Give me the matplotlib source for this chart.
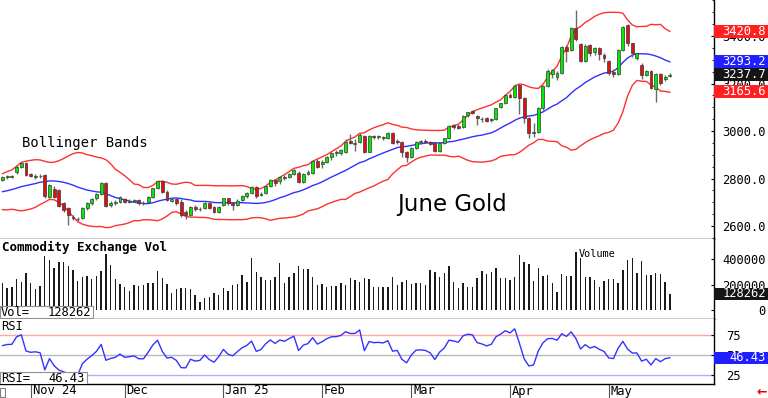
import numpy as np
import pandas as pd
import matplotlib
matplotlib.use('Agg')
import matplotlib.pyplot as plt
import matplotlib.transforms as mtransforms
from matplotlib.patches import Rectangle

# June gold (COMEX), daily bars 24 Oct 2024 - 20 May 2025
holidays = ['2024-11-28', '2024-12-25', '2025-01-01', '2025-01-20', '2025-02-17', '2025-04-18']
dates = pd.bdate_range('2024-10-24', '2025-05-20')
dates = dates[~dates.isin(pd.to_datetime(holidays))]
month_labels = ['Nov 24', 'Dec', 'Jan 25', 'Feb', 'Mar', 'Apr', 'May']

# closes before the window, only used to warm up the bands and the RSI
warmup_close = [2745, 2733, 2709, 2737, 2732, 2731, 2728, 2719, 2697, 2683,
                2705, 2732, 2724, 2737, 2749, 2767, 2796, 2795, 2823, 2791]

opens = [2795, 2806, 2808, 2826, 2850, 2864, 2818, 2808, 2812, 2815,
         2723, 2754, 2752, 2695, 2674, 2639, 2628, 2632, 2674, 2695,
         2716, 2735, 2780, 2690, 2698, 2702, 2712, 2703, 2705, 2709,
         2698, 2702, 2721, 2759, 2791, 2745, 2706, 2712, 2700, 2660,
         2646, 2681, 2670, 2674, 2695, 2681, 2660, 2688, 2716, 2698,
         2688, 2709, 2726, 2738, 2763, 2730, 2738, 2768, 2794, 2791,
         2808, 2808, 2819, 2825, 2787, 2819, 2825, 2875, 2862, 2871,
         2892, 2906, 2906, 2912, 2960, 2945, 2952, 2980, 2913, 2978,
         2975, 2970, 2970, 2990, 2958, 2955, 2910, 2892, 2930, 2953,
         2956, 2955, 2948, 2917, 2948, 2969, 3025, 3020, 3018, 3067,
         3086, 3063, 3052, 3053, 3046, 3049, 3100, 3116, 3152, 3145,
         3194, 3138, 3053, 2990, 2997, 3095, 3189, 3240, 3226, 3243,
         3355, 3341, 3432, 3366, 3296, 3362, 3334, 3348, 3320, 3296,
         3250, 3240, 3341, 3446, 3369, 3306, 3278, 3236, 3254, 3175,
         3240, 3218, 3232]
highs = [2812, 2815, 2816, 2855, 2870, 2870, 2825, 2818, 2820, 2820,
         2778, 2770, 2755, 2700, 2680, 2648, 2640, 2680, 2700, 2718,
         2740, 2787, 2785, 2705, 2710, 2725, 2718, 2712, 2715, 2714,
         2705, 2725, 2762, 2795, 2795, 2750, 2716, 2718, 2712, 2668,
         2685, 2688, 2680, 2700, 2700, 2686, 2685, 2720, 2720, 2702,
         2712, 2730, 2742, 2768, 2768, 2742, 2772, 2798, 2800, 2810,
         2814, 2824, 2840, 2830, 2823, 2834, 2880, 2882, 2880, 2896,
         2912, 2918, 2925, 2965, 2988, 2965, 2990, 2985, 2985, 2985,
         2982, 2980, 2995, 2994, 2965, 2960, 2915, 2932, 2960, 2962,
         2965, 2960, 2952, 2952, 2972, 3025, 3030, 3028, 3068, 3082,
         3090, 3068, 3058, 3060, 3055, 3098, 3120, 3155, 3160, 3200,
         3200, 3142, 3060, 3032, 3100, 3195, 3260, 3262, 3252, 3360,
         3362, 3438, 3510, 3372, 3365, 3366, 3355, 3352, 3328, 3300,
         3260, 3346, 3444, 3450, 3372, 3330, 3285, 3258, 3258, 3245,
         3245, 3235, 3245]
lows = [2790, 2800, 2802, 2820, 2845, 2810, 2805, 2800, 2802, 2720,
        2718, 2718, 2680, 2660, 2604, 2625, 2620, 2628, 2668, 2690,
        2710, 2730, 2680, 2680, 2690, 2698, 2695, 2698, 2700, 2690,
        2688, 2698, 2718, 2755, 2740, 2705, 2700, 2690, 2640, 2630,
        2642, 2665, 2665, 2670, 2670, 2655, 2655, 2684, 2690, 2667,
        2684, 2704, 2720, 2734, 2720, 2725, 2734, 2764, 2770, 2778,
        2795, 2804, 2815, 2782, 2783, 2814, 2820, 2844, 2845, 2866,
        2880, 2895, 2900, 2908, 2945, 2915, 2948, 2908, 2910, 2968,
        2968, 2962, 2965, 2944, 2945, 2892, 2871, 2888, 2925, 2945,
        2948, 2940, 2912, 2912, 2944, 2965, 3010, 3008, 3014, 3060,
        3070, 3025, 3040, 3038, 3040, 3045, 3096, 3112, 3140, 3140,
        3070, 3032, 2969, 2976, 2990, 3090, 3185, 3225, 3215, 3240,
        3292, 3336, 3380, 3290, 3292, 3315, 3320, 3300, 3290, 3235,
        3228, 3236, 3336, 3360, 3310, 3300, 3220, 3230, 3175, 3124,
        3195, 3212, 3226]
closes = [2805, 2810, 2811, 2850, 2864, 2815, 2810, 2812, 2809, 2726,
          2773, 2723, 2684, 2667, 2646, 2632, 2630, 2674, 2695, 2712,
          2735, 2780, 2684, 2695, 2702, 2721, 2702, 2705, 2709, 2695,
          2695, 2721, 2759, 2791, 2745, 2709, 2712, 2695, 2646, 2645,
          2681, 2670, 2673, 2695, 2674, 2660, 2681, 2716, 2695, 2688,
          2707, 2726, 2738, 2763, 2726, 2735, 2768, 2794, 2782, 2805,
          2801, 2819, 2836, 2787, 2819, 2829, 2875, 2850, 2868, 2892,
          2909, 2910, 2920, 2955, 2950, 2950, 2983, 2912, 2980, 2975,
          2977, 2975, 2990, 2950, 2954, 2912, 2892, 2928, 2955, 2956,
          2954, 2945, 2917, 2948, 2969, 3021, 3018, 3014, 3063, 3079,
          3077, 3053, 3049, 3043, 3050, 3095, 3117, 3151, 3145, 3190,
          3140, 3053, 2990, 2995, 3095, 3189, 3254, 3257, 3246, 3355,
          3338, 3432, 3386, 3296, 3359, 3327, 3348, 3324, 3306, 3246,
          3240, 3341, 3439, 3369, 3327, 3327, 3236, 3254, 3180, 3240,
          3201, 3229, 3237.7]
volume = [209, 170, 178, 240, 222, 288, 214, 162, 188, 423,
          392, 327, 374, 374, 348, 314, 230, 261, 267, 246,
          269, 308, 439, 353, 240, 204, 183, 152, 196, 188,
          196, 209, 209, 308, 248, 204, 136, 162, 170, 170,
          162, 118, 65, 91, 105, 131, 118, 170, 152, 196,
          204, 274, 222, 405, 301, 261, 235, 235, 256, 371,
          214, 261, 293, 345, 319, 319, 261, 196, 204, 178,
          188, 188, 214, 196, 248, 235, 222, 248, 243, 183,
          183, 183, 183, 261, 196, 222, 235, 204, 209, 209,
          196, 314, 301, 261, 288, 345, 222, 170, 214, 178,
          178, 248, 308, 280, 301, 327, 254, 254, 235, 256,
          431, 379, 358, 227, 332, 267, 274, 209, 144, 282,
          269, 269, 457, 405, 261, 261, 235, 183, 227, 240,
          240, 214, 314, 392, 405, 288, 384, 274, 274, 293,
          280, 222, 128.262]  # thousands of contracts

# values printed in the boxes on the right
last_upper, last_mid, last_close, last_lower = 3420.8, 3293.2, 3237.7, 3165.6
last_vol = 128262
last_rsi = 46.43

MONO = 'DejaVu Sans Mono'
W, H = 768, 398
PLOT_R = 714  # right edge of the panels, pixels

o, h, l, c = map(np.array, (opens, highs, lows, closes))
vol = np.array(volume) * 1000
x = np.arange(len(c))

# indicators (20 day Bollinger, 9 day RSI)
full = pd.Series(warmup_close + closes, dtype=float)
n0 = len(warmup_close)
mid = full.rolling(20).mean()
sd = full.rolling(20).std(ddof=0)
upper = (mid + 2 * sd).values[n0:]
lower = (mid - 2 * sd).values[n0:]
mid = mid.values[n0:]
delta = full.diff()
gain = delta.clip(lower=0).ewm(alpha=1 / 9, adjust=False).mean()
loss = (-delta.clip(upper=0)).ewm(alpha=1 / 9, adjust=False).mean()
rsi = (100 - 100 / (1 + gain / loss)).values[n0:]

fig = plt.figure(figsize=(W / 100, H / 100), dpi=100)


def panel(top, bottom, share=None):
    return fig.add_axes([0, 1 - bottom / H, PLOT_R / W, (bottom - top) / H], sharex=share)


ax = panel(0, 239)
axv = panel(239, 319, ax)
axr = panel(319, 384, ax)

for a in (ax, axv, axr):
    a.set_facecolor('white')
    a.spines['left'].set_visible(False)
    a.spines['top'].set_visible(False)
    for s in ('right', 'bottom'):
        a.spines[s].set_color('black')
        a.spines[s].set_linewidth(1)
    a.yaxis.tick_right()
    a.tick_params(axis='x', bottom=False, labelbottom=False)
    a.tick_params(axis='y', direction='in', length=2.2, width=0.8, labelsize=8.7,
                  pad=5.8, colors='black')

ax.set_xlim(-0.53, 151.4)

# ---- price panel
ax.set_ylim(2545.3, 3551.6)
ax.vlines(x, l, h, color='#6a6a6a', lw=1, zorder=2)
body_lo = np.minimum(o, c)
body_h = np.maximum(np.abs(c - o), 3)
up = c >= o
ax.bar(x[up], body_h[up], bottom=body_lo[up], width=0.62, color='#00ec00',
       edgecolor='#3a3a3a', lw=0.5, zorder=3)
ax.bar(x[~up], body_h[~up], bottom=body_lo[~up], width=0.62, color='#e01010',
       edgecolor='#3a3a3a', lw=0.5, zorder=3)
ax.plot(x, upper, color='#ff3030', lw=1, zorder=1)
ax.plot(x, lower, color='#ff3030', lw=1, zorder=1)
ax.plot(x, mid, color='#3030ff', lw=1, zorder=1)
price_ticks = [2600, 2800, 3000, 3200, 3400]
ax.set_yticks(price_ticks)
ax.set_yticklabels(['%.1f' % v for v in price_ticks], fontfamily=MONO)
ax.set_yticks(np.arange(2550, 3551, 50), minor=True)
ax.tick_params(axis='y', which='minor', direction='in', length=1.5, width=0.6)

ax.text(22 / PLOT_R, 1 - 143 / 239, 'Bollinger Bands', transform=ax.transAxes,
        fontfamily=MONO, fontsize=10, va='center', ha='left')
ax.text(452 / PLOT_R, 1 - 205 / 239, 'June Gold', transform=ax.transAxes,
        fontsize=16.5, va='center', ha='center')


def value_box(a, y, label, fc, h_px, text_right=766):
    y0, y1 = a.get_ylim()
    per_px = (y1 - y0) / (a.get_position().height * H)
    tr = mtransforms.blended_transform_factory(a.transAxes, a.transData)
    a.add_patch(Rectangle((1.0, y - h_px / 2 * per_px), 60 / PLOT_R, h_px * per_px,
                          transform=tr, facecolor=fc, edgecolor='none',
                          clip_on=False, zorder=6))
    a.text(text_right / PLOT_R, y, label, transform=tr, ha='right', va='center',
           color='white', fontfamily=MONO, fontsize=8.7, zorder=7, clip_on=False)


value_box(ax, last_upper, '%.1f' % last_upper, '#ff2020', 13)
value_box(ax, last_mid, '%.1f' % last_mid, '#2020ff', 13)
value_box(ax, last_close, '%.1f' % last_close, '#151515', 13)
value_box(ax, last_lower, '%.1f' % last_lower, '#ff2020', 13)

# ---- volume panel
axv.set_ylim(-70000, 557000)
axv.bar(x, vol, width=0.3, color='#1a1a1a', zorder=2)
axv.set_yticks([0, 200000, 400000])
axv.set_yticklabels(['0', '200000', '400000'], fontfamily=MONO)
axv.tick_params(axis='y', pad=37.4)
for t in axv.get_yticklabels():
    t.set_horizontalalignment('right')
axv.text(2 / PLOT_R, 1 - 8.5 / 80, 'Commodity Exchange Vol', transform=axv.transAxes,
         fontfamily=MONO, fontsize=9, fontweight='bold', va='center', ha='left')
axv.text(579 / PLOT_R, 1 - 15 / 80, 'Volume', transform=axv.transAxes,
         fontfamily=MONO, fontsize=7.4, va='center', ha='left')
value_box(axv, last_vol, str(last_vol), '#151515', 12)
axv.add_patch(Rectangle((0, 1 - 79 / 80), 93 / PLOT_R, 12 / 80, transform=axv.transAxes,
                        facecolor='white', edgecolor='#909090', lw=0.8, zorder=5))
axv.text(1 / PLOT_R, 1 - 73 / 80, 'Vol=', transform=axv.transAxes, fontfamily=MONO,
         fontsize=8.7, va='center', ha='left', zorder=6)
axv.text(91 / PLOT_R, 1 - 73 / 80, str(last_vol), transform=axv.transAxes,
         fontfamily=MONO, fontsize=8.7, va='center', ha='right', zorder=6)

# ---- RSI panel
axr.set_ylim(13.75, 95)
axr.axhline(75, color='#ffa8a8', lw=1, zorder=1)
axr.axhline(50, color='#b8b8b8', lw=1, zorder=1)
axr.axhline(25, color='#b0b0ff', lw=1, zorder=1)
axr.plot(x, rsi, color='#3333ff', lw=1, zorder=3)
axr.set_yticks([25, 50, 75])
axr.set_yticklabels(['25', '50', '75'], fontfamily=MONO)
axr.tick_params(axis='y', pad=8.5)
value_box(axr, last_rsi, '%.2f' % last_rsi, '#2020ff', 12)
axr.text(1 / PLOT_R, 1 - 8 / 65, 'RSI', transform=axr.transAxes, fontfamily=MONO,
         fontsize=8.7, va='center', ha='left')
axr.add_patch(Rectangle((0, 0), 87 / PLOT_R, 12 / 65, transform=axr.transAxes,
                        facecolor='white', edgecolor='#909090', lw=0.8, zorder=5))
axr.text(1 / PLOT_R, 6 / 65, 'RSI=', transform=axr.transAxes, fontfamily=MONO,
         fontsize=8.7, va='center', ha='left', zorder=6)
axr.text(85 / PLOT_R, 6 / 65, '%.2f' % last_rsi, transform=axr.transAxes,
         fontfamily=MONO, fontsize=8.7, va='center', ha='right', zorder=6)

# ---- month strip under the RSI panel
month_start = np.flatnonzero(dates.month[1:] != dates.month[:-1]) + 1
strip = mtransforms.blended_transform_factory(axr.transData, axr.transAxes)
axr.vlines(month_start, -14 / 65, 0, transform=strip, color='#555555',
           lw=0.8, clip_on=False)
for pos, lab in zip(month_start, month_labels):
    axr.text(pos + 0.4, -7 / 65, lab, transform=strip, fontfamily=MONO, fontsize=8.7,
             va='center', ha='left', clip_on=False)

fig.patches.append(Rectangle((0, 1 - 397 / H), 5 / W, 9 / H, transform=fig.transFigure,
                             fill=False, edgecolor='#808080', lw=0.8))
fig.text(762 / W, 1 - 392 / H, '\u2190', color='#ee0000', fontsize=9, fontweight='bold',
         ha='center', va='center')

fig.savefig('out.png', dpi=100, facecolor='white')
